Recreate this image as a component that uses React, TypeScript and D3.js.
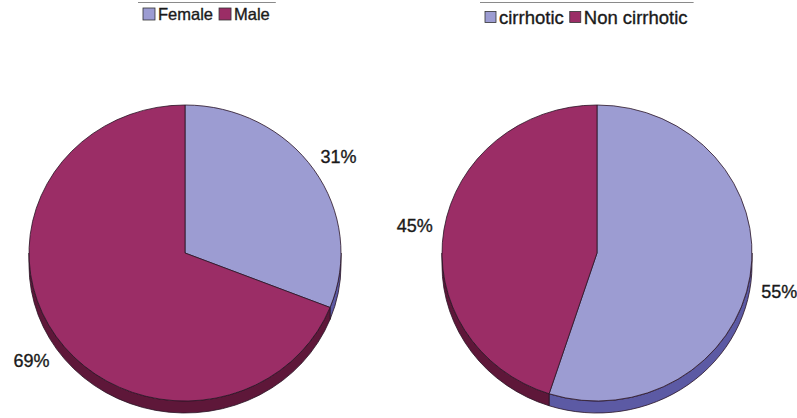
import React, { useEffect, useRef } from 'react';
import * as d3 from 'd3';

// chart data
const genderLabels = ['Female', 'Male'];
const genderValues = [31, 69];
const cirrhosisLabels = ['cirrhotic', 'Non cirrhotic'];
const cirrhosisValues = [55, 45];

const W = 797;
const H = 418;
const topColors = ['#9c9cd2', '#9b2d66'];
const sideColors = ['#5c5aa4', '#5e1739'];

function drawPie(svg, labels, values, opts) {
  const { cx, cy, rx, ry, depth, legendX, legendY, fontSize, boxSize, labelSize } = opts;
  const g = svg.append('g');
  const arcs = d3.pie<number>().sort(null)(values);

  const pt = (a, dy = 0) => [cx + rx * Math.sin(a), cy - ry * Math.cos(a) + dy];

  // side walls (only lower half is visible)
  arcs.forEach((d, i) => {
    const a0 = Math.max(d.startAngle, Math.PI / 2);
    const a1 = Math.min(d.endAngle, Math.PI * 1.5);
    if (a1 <= a0) return;
    const p0 = pt(a0), p1 = pt(a1), q1 = pt(a1, depth), q0 = pt(a0, depth);
    const large = a1 - a0 > Math.PI ? 1 : 0;
    g.append('path')
      .attr('d', `M${p0}A${rx},${ry} 0 ${large} 1 ${p1}L${q1}A${rx},${ry} 0 ${large} 0 ${q0}Z`)
      .attr('fill', sideColors[i])
      .attr('stroke', '#2a1424')
      .attr('stroke-width', 0.8);
  });

  // top faces
  arcs.forEach((d, i) => {
    const p0 = pt(d.startAngle), p1 = pt(d.endAngle);
    const large = d.endAngle - d.startAngle > Math.PI ? 1 : 0;
    g.append('path')
      .attr('d', `M${cx},${cy}L${p0}A${rx},${ry} 0 ${large} 1 ${p1}Z`)
      .attr('fill', topColors[i])
      .attr('stroke', '#2a1424')
      .attr('stroke-width', 0.8);
  });

  // percent labels
  const total = d3.sum(values);
  arcs.forEach((d) => {
    const m = (d.startAngle + d.endAngle) / 2;
    const x = cx + rx * 1.19 * Math.sin(m);
    const y = cy - ry * 1.15 * Math.cos(m) + (Math.cos(m) < 0 ? depth : 0);
    g.append('text')
      .attr('x', x)
      .attr('y', y)
      .attr('text-anchor', 'middle')
      .attr('dominant-baseline', 'central')
      .attr('font-family', 'Liberation Sans, Arial, sans-serif')
      .attr('font-size', labelSize)
      .attr('fill', '#1a1a1a')
      .attr('stroke', '#1a1a1a')
      .attr('stroke-width', 0.35)
      .text(Math.round((d.value / total) * 100) + '%');
  });

  // legend
  const lg = svg.append('g');
  let x = legendX;
  labels.forEach((l, i) => {
    lg.append('rect')
      .attr('x', x)
      .attr('y', legendY - boxSize / 2)
      .attr('width', boxSize)
      .attr('height', boxSize)
      .attr('fill', topColors[i])
      .attr('stroke', '#333')
      .attr('stroke-width', 0.8);
    const t = lg.append('text')
      .attr('x', x + boxSize + 3)
      .attr('y', legendY)
      .attr('dominant-baseline', 'central')
      .attr('font-family', 'Liberation Sans, Arial, sans-serif')
      .attr('font-size', fontSize)
      .attr('fill', '#1a1a1a')
      .attr('stroke', '#1a1a1a')
      .attr('stroke-width', 0.35)
      .text(l);
    const tw = (t.node() as SVGTextElement).getComputedTextLength();
    x += boxSize + 3 + tw + 6;
  });
  // legend frame (top edge)
  lg.append('line')
    .attr('x1', legendX - 5)
    .attr('x2', x)
    .attr('y1', 2.5)
    .attr('y2', 2.5)
    .attr('stroke', '#8a8a8a')
    .attr('stroke-width', 1);
}

export default function App() {
  const ref = useRef(null);
  useEffect(() => {
    const svg = d3.select(ref.current);
    svg.selectAll('*').remove();
    drawPie(svg, genderLabels, genderValues, {
      cx: 185, cy: 253, rx: 156, ry: 148, depth: 12,
      legendX: 143, legendY: 14, fontSize: 16.5, boxSize: 12, labelSize: 18,
    });
    drawPie(svg, cirrhosisLabels, cirrhosisValues, {
      cx: 597, cy: 253, rx: 155, ry: 148, depth: 12,
      legendX: 485, legendY: 17, fontSize: 18.5, boxSize: 11, labelSize: 18,
    });
  }, []);
  return (
    <svg
      ref={ref}
      width={W}
      height={H}
      style={{ position: 'absolute', left: 0, top: 0, background: '#fff' }}
    />
  );
}
